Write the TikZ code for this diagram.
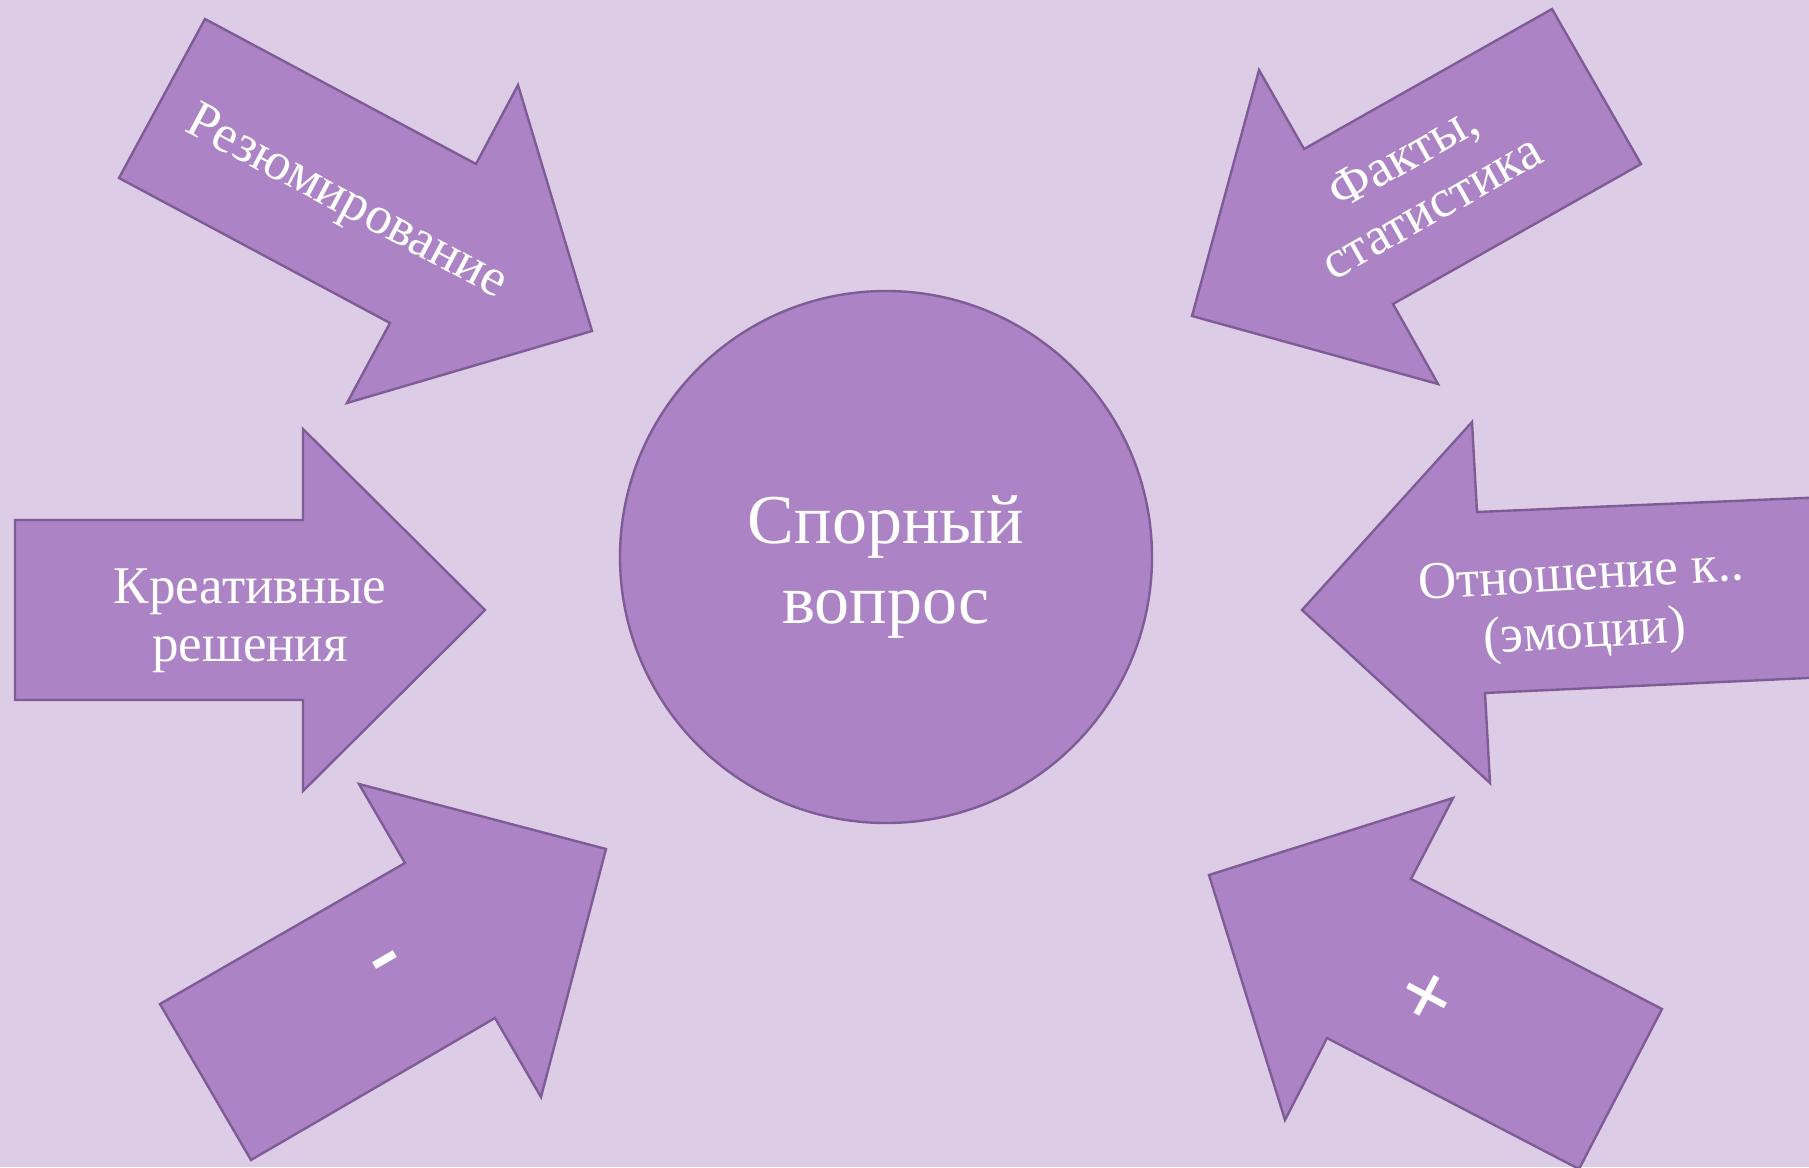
\documentclass[tikz,border=0pt]{standalone}
\usepackage{fontspec}
\setmainfont{Liberation Serif}
\usetikzlibrary{positioning}

\definecolor{bgLilac}{RGB}{220,204,230}
\definecolor{arrowFill}{RGB}{172,132,198}
\definecolor{arrowLine}{RGB}{126,92,150}

\tikzset{
  block/.style={fill=arrowFill, draw=arrowLine, line width=2.4pt, line join=miter},
  arrowtext/.style={text=white, align=center, inner sep=0pt,
    font=\fontsize{53}{58}\selectfont},
  signtext/.style={text=white, inner sep=0pt,
    font=\fontsize{92}{92}\selectfont\bfseries},
  issuetext/.style={text=white, align=center, inner sep=0pt,
    font=\fontsize{70}{80}\selectfont}
}

\begin{document}
\begin{tikzpicture}[x=1pt,y=-1pt]

        \clip (0,0) rectangle (1809,1167);
        \fill[bgLilac] (0,0) rectangle (1809,1167);

        % arrows pointing at the centre
        \draw[block] (205,19) -- (476,164) -- (518,85) -- (592,331)
          -- (347,403) -- (390,323) -- (119,178) -- cycle;
        \draw[block] (1552,9) -- (1641,164) -- (1393,304) -- (1438,384)
          -- (1192,316) -- (1259,70) -- (1304,149) -- cycle;
        \draw[block] (15,520) -- (303,520) -- (303,429) -- (485,610)
          -- (303,791) -- (303,700) -- (15,700) -- cycle;
        \draw[block] (1472,422) -- (1477,512) -- (1850,496) -- (1850,676)
          -- (1485,693) -- (1490,783) -- (1302,610) -- cycle;
        \draw[block] (359,784) -- (606,849) -- (541,1097) -- (495,1018)
          -- (251,1160) -- (160,1004) -- (405,863) -- cycle;
        \draw[block] (1209,875) -- (1453,798) -- (1411,879) -- (1662,1009)
          -- (1579,1169) -- (1327,1038) -- (1285,1120) -- cycle;

        % centre
        \coordinate (O) at (886,557);
        \draw[block] (O) circle (266pt);
        \node[issuetext] (issue) at (886,567) {Спорный\\вопрос};

        \node[arrowtext, rotate=-28.1] (summary) at (346,204) {Резюмирование};
        \node[arrowtext, rotate=29.4] (facts) at (1417,181) {Факты,\\статистика};
        \node[arrowtext] (creative) at (250,621) {Креативные\\решения};
        \node[arrowtext, rotate=3.5] (attitude) at (1583,607) {Отношение к..\\(эмоции)};
        \node[signtext, rotate=30] (minus) at (389,968) {-};
        \node[signtext, rotate=-28] (plus) at (1425,1000) {+};

\end{tikzpicture}
\end{document}
